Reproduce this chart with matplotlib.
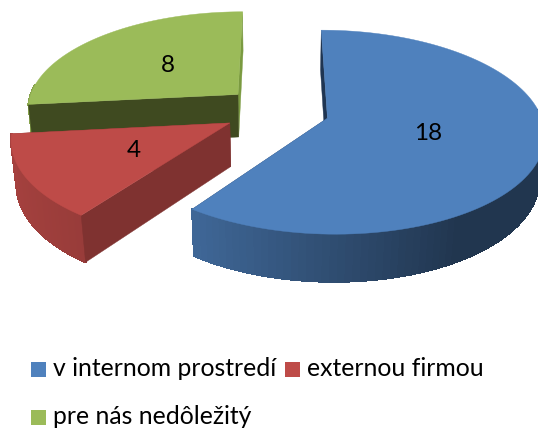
import numpy as np
import matplotlib
matplotlib.use('Agg')
import matplotlib.pyplot as plt
from matplotlib.collections import PolyCollection
from matplotlib.patches import Polygon, Rectangle

categorias = ['v internom prostredí', 'externou firmou', 'pre nás nedôležitý']
valores = [18, 4, 8]
colores = ['#4F81BD', '#BE4B48', '#9BBB59']
# color de las dos caras de corte de cada porcion (inicio, fin)
caras = [('#1F3552', '#2A4468'), ('#7F3230', '#7F3230'), ('#3F4A20', '#7A9A40')]
radios_etiqueta = [0.47, 0.5, 0.5]

CX, CY = 276.5, 110.5  # centro del pastel en pixeles
A, B = 212, 98         # semiejes del circulo proyectado
K = 0.136              # fuerza de la perspectiva
ALTO = 44              # grosor del pastel
SEP = 0.25             # separacion de las porciones

plt.rcParams['font.family'] = ['Lato', 'DejaVu Sans']


def proyectar(u, v, abajo=False):
    w = 1 + K * v
    if abajo:
        w2 = w + 0.02
        return CX + A * u / w2, CY + (-B * v + ALTO) / w2
    return CX + A * u / w, CY - B * v / w


def sombra(u):
    return np.interp(u, [-1, -0.588, 0.5, 1], [0.87, 0.8, 0.42, 0.42])


def dibujar_cara(ax, ou, ov, a, color, orden):
    u, v = ou + np.sin(a), ov + np.cos(a)
    cara = [proyectar(ou, ov), proyectar(u, v), proyectar(u, v, True), proyectar(ou, ov, True)]
    ax.add_patch(Polygon(cara, closed=True, fc=color, ec=color, lw=0.3, zorder=orden))


def dibujar_porcion(ax, ini, fin, color, cara_ini, cara_fin, base_z):
    medio = np.radians((ini + fin) / 2)
    ou, ov = SEP * np.sin(medio), SEP * np.cos(medio)
    ang = np.radians(np.linspace(ini, fin, 120))
    us, vs = np.sin(ang), np.cos(ang)

    # las caras que miran al frente van sobre la pared, las otras debajo
    z_ini = base_z + 2 if np.sin(ang[0]) < -1e-6 else base_z
    z_fin = base_z + 2 if np.sin(ang[-1]) > 1e-6 else base_z
    dibujar_cara(ax, ou, ov, ang[0], cara_ini, z_ini)
    dibujar_cara(ax, ou, ov, ang[-1], cara_fin, z_fin)

    # pared exterior con degradado, solo la parte que da al frente
    quads, cols = [], []
    base = np.array(matplotlib.colors.to_rgb(color))
    for i in range(len(ang) - 1):
        if vs[i] > 0.1:
            continue
        u0, v0 = ou + us[i], ov + vs[i]
        u1, v1 = ou + us[i + 1], ov + vs[i + 1]
        quads.append([proyectar(u0, v0), proyectar(u1, v1), proyectar(u1, v1, True), proyectar(u0, v0, True)])
        cols.append(base * sombra((us[i] + us[i + 1]) / 2))
    ax.add_collection(PolyCollection(quads, facecolors=cols, edgecolors=cols, linewidths=0.8,
                                     antialiaseds=False, zorder=base_z + 1))

    # cara superior
    xs, ys = proyectar(ou + us, ov + vs)
    ax0, ay0 = proyectar(ou, ov)
    ax.add_patch(Polygon(np.column_stack([np.r_[ax0, xs], np.r_[ay0, ys]]), closed=True,
                         fc=color, ec=color, lw=0.3, zorder=base_z + 3))


fig = plt.figure(figsize=(5.38, 4.28), dpi=100)
ax = fig.add_axes([0, 0, 1, 1])
ax.set_xlim(0, 538)
ax.set_ylim(428, 0)
ax.axis('off')

total = sum(valores)
limites = np.cumsum([0] + valores) / total * 360

# de atras hacia adelante
for n, i in enumerate([2, 1, 0]):
    dibujar_porcion(ax, limites[i], limites[i + 1], colores[i], caras[i][0], caras[i][1], 2 + n * 5)

for i, valor in enumerate(valores):
    medio = np.radians((limites[i] + limites[i + 1]) / 2)
    r = SEP + radios_etiqueta[i]
    x, y = proyectar(r * np.sin(medio), r * np.cos(medio))
    ax.text(x + 2, y + 1, str(valor), fontsize=17.5, color='black', ha='center', va='center', zorder=30)

# leyenda
pos_leyenda = [(31, 369), (285, 369), (31, 417)]
for (x, y), nombre, color in zip(pos_leyenda, categorias, colores):
    ax.add_patch(Rectangle((x, y - 7.5), 15, 15, fc=color, ec='none', zorder=30))
    ax.text(x + 22, y, nombre, fontsize=17.8, color='black', ha='left', va='center', zorder=30)

fig.savefig('out.png', dpi=100)
